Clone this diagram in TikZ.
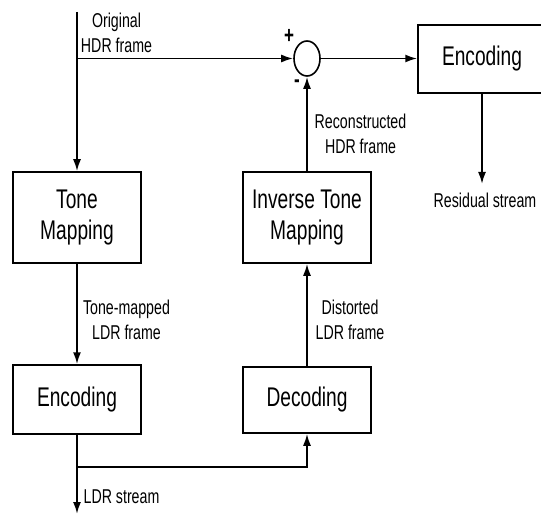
\documentclass[tikz,border=0pt]{standalone}
\usepackage{fontspec}
\setmainfont{Liberation Sans}[FakeStretch=0.71]
\usetikzlibrary{arrows.meta,shapes.geometric}

\tikzset{
  blk/.style={draw=black, line width=1.5bp, inner sep=0pt, align=center,
    font=\fontsize{27bp}{31bp}\selectfont},
  lbl/.style={inner sep=0pt, align=center, font=\fontsize{20bp}{25bp}\selectfont},
  sgn/.style={inner sep=0pt, font=\bfseries\fontsize{24bp}{24bp}\selectfont},
  wire/.style={line width=1.9bp, draw=black},
  arr/.style={wire, -{Latex[length=12bp,width=8bp]}},
}

\begin{document}
\begin{tikzpicture}[x=1bp, y=-1bp]
  \clip (0,0) rectangle (541,515);
  \fill[white] (0,0) rectangle (541,515);

  % processing blocks
  \node[blk, minimum width=128bp, minimum height=91bp] (tm)  at (77,217.5) {Tone\\Mapping};
  \node[blk, minimum width=128bp, minimum height=69bp] (enc) at (77,399.5) {Encoding};
  \node[blk, minimum width=128bp, minimum height=66bp] (dec) at (307,400) {Decoding};
  \node[blk, minimum width=128bp, minimum height=91bp] (itm) at (307,217.5) {Inverse Tone\\Mapping};
  \node[blk, minimum width=128bp, minimum height=68bp] (enc2) at (482,59) {Encoding};

  % difference junction
  \node[draw=black, line width=1.6bp, ellipse, minimum width=26bp, minimum height=35bp, inner sep=0pt] (sum) at (307,58.5) {};
  \node[sgn] (plus) at (289,36) {+};
  \node[sgn] (minus) at (297,84) {-};

  % connector end points
  \coordinate (src) at (77,12);
  \coordinate (j1) at (77,58.5);
  \coordinate (j2) at (77,467);
  \coordinate (ldr) at (77,514);
  \coordinate (res) at (482,184);

  % connectors
  \draw[arr] (src) -- (tm.north);
  \draw[arr] (j1) -- (sum.west);
  \draw[arr] (sum.east) -- (sum.east -| enc2.west);
  \draw[arr] (enc2.south -| res) -- (res);
  \draw[arr] (tm.south) -- (enc.north);
  \draw[arr] (enc.south) -- (ldr);
  \draw[arr] (j2) -| (dec.south);
  \draw[arr] (dec.north) -- (itm.south);
  \draw[arr] (itm.north) -- (sum.south);

  % signal labels
  \node[lbl] (l1) at (116.5,33) {Original\\HDR frame};
  \node[lbl] (l2) at (126.5,320) {Tone-mapped\\LDR frame};
  \node[lbl] (l3) at (121.5,497) {LDR stream};
  \node[lbl] (l4) at (350,320) {Distorted\\LDR frame};
  \node[lbl] (l5) at (360.5,134) {Reconstructed\\HDR frame};
  \node[lbl] (l6) at (485,200) {Residual stream};
\end{tikzpicture}
\end{document}
